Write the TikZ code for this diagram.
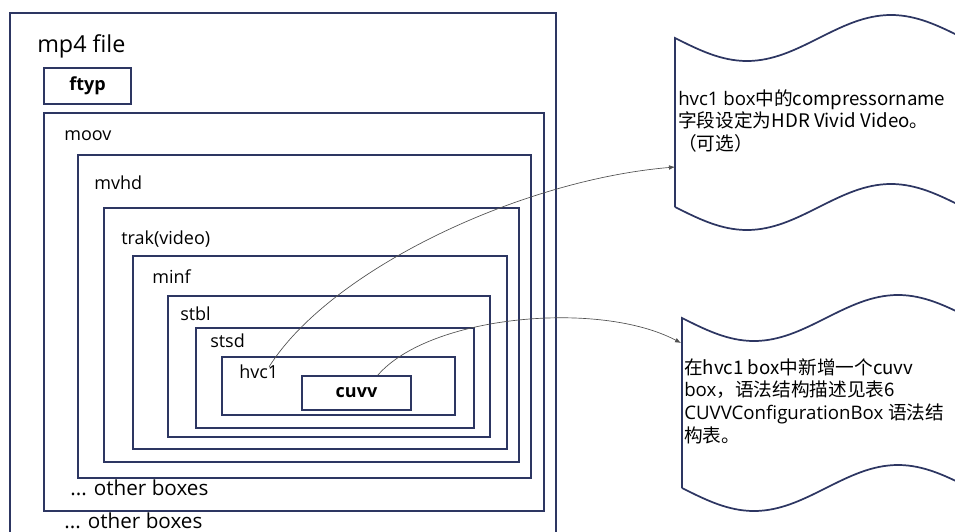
\documentclass[tikz,border=0pt]{standalone}
\usepackage{fontspec}
\setmainfont{Open Sans}
\newfontfamily\cjk{Noto Sans CJK SC}
\usetikzlibrary{arrows.meta}
\usetikzlibrary{calc,positioning}

\definecolor{boxcol}{RGB}{45,54,98}
\definecolor{linkcol}{RGB}{80,80,80}

\tikzset{
    box/.style={draw=boxcol, line width=1.3pt},
    tag/.style={draw=boxcol, line width=1.3pt, font=\fontsize{13.5}{15}\selectfont\bfseries, inner sep=0pt},
    lbl/.style={anchor=base west, inner sep=0pt, font=\fontsize{13.5}{15}\selectfont},
    note/.style={anchor=north west, inner sep=0pt, align=left, font=\fontsize{14}{17}\selectfont},
    link/.style={draw=linkcol, line width=0.5pt, -{Latex[length=4.5pt,width=3.5pt]}}
}

\begin{document}
\begin{tikzpicture}[x=0.75pt, y=-0.75pt]

    \useasboundingbox (0,0) rectangle (955,531);

    \draw[box] (10,13) rectangle (556,600);
    \node[lbl, font=\fontsize{17.5}{19}\selectfont] (file) at (37,53) {mp4 file};
    \node[tag, minimum width=65pt, minimum height=27pt] (ftyp) at (87.5,86) {ftyp};

    \draw[box] (44,113) rectangle (544,511);
    \node[lbl] (moov) at (64,141) {moov};
    \draw[box] (78,155) rectangle (531,478);
    \node[lbl] (mvhd) at (94,189) {mvhd};
    \draw[box] (104,208) rectangle (519,462);
    \node[lbl] (trak) at (121,244) {trak(video)};
    \draw[box] (133,256) rectangle (507,449);
    \node[lbl] (minf) at (152,283) {minf};
    \draw[box] (168,296) rectangle (490,437);
    \node[lbl] (stbl) at (180,320) {stbl};
    \draw[box] (196,328) rectangle (474,428);
    \node[lbl] (stsd) at (210,347) {stsd};
    \draw[box] (222,357) rectangle (455,415);
    \node[lbl] (hvc1) at (239,378) {hvc1};
    \node[tag, minimum width=81.75pt, minimum height=25.5pt] (cuvv) at (356.5,393) {cuvv};

    \node[lbl, font=\fontsize{15.5}{17}\selectfont] (other1) at (70,495) {... other boxes};
    \node[lbl, font=\fontsize{15.5}{17}\selectfont] (other2) at (64,528) {... other boxes};

    \draw[box] (675,207) -- (675,38) sin (747,61) cos (819,38) sin (891,15) cos (963,38);
    \draw[box] (675,207) sin (747,230) cos (819,207) sin (891,184) cos (963,207);
    \node[note] (note1) at (678,89) {hvc1 box\cjk{中的}compressorname\\\cjk{字段设定为}HDR Vivid Video\cjk{。}\\\cjk{（可选）}};
    \coordinate (in1) at (675,167);

    \draw[box] (682,488) -- (682,318) sin (754,341) cos (826,318) sin (898,295) cos (970,318);
    \draw[box] (682,488) sin (754,511) cos (826,488) sin (898,465) cos (970,488);
    \node[note] (note2) at (684,358) {\cjk{在}hvc1 box\cjk{中新增一个}cuvv\\box\cjk{，语法结构描述见表}6\\CUVVConfigurationBox \cjk{语法结}\\\cjk{构表。}};
    \coordinate (in2) at (681,343);

    \draw[link] ([xshift=-7pt,yshift=-2pt]hvc1.north east) .. controls (330,270) and (520,180) .. (in1);
    \draw[link] ([xshift=16pt]cuvv.north) .. controls (430,315) and (600,300) .. (in2);

\end{tikzpicture}
\end{document}
